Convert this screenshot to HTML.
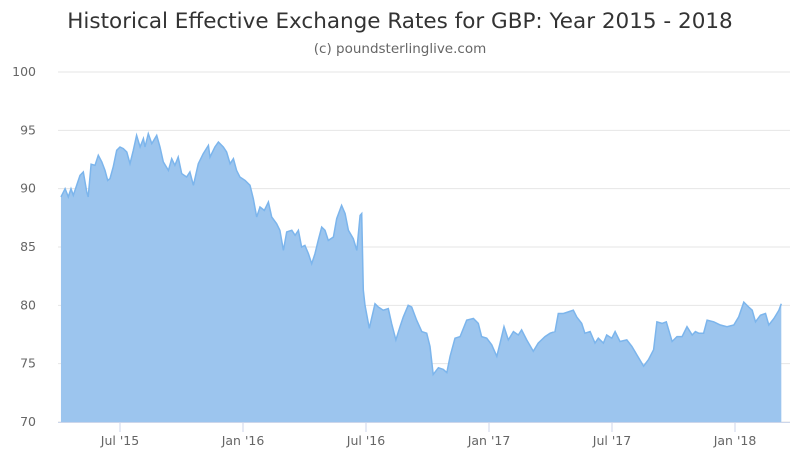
<!DOCTYPE html>
<html><head><meta charset="utf-8"><style>
body{margin:0;background:#fff;font-family:"Liberation Sans",sans-serif}
svg{display:block}
</style></head><body>
<svg id="chart" width="800" height="464" xmlns="http://www.w3.org/2000/svg">
<text x="400" y="28" text-anchor="middle" font-size="21.5" fill="#333" font-family="DejaVu Sans, sans-serif">Historical Effective Exchange Rates for GBP: Year 2015 - 2018</text>
<text x="400" y="53" text-anchor="middle" font-size="13.5" fill="#666" font-family="DejaVu Sans, sans-serif">(c) poundsterlinglive.com</text>
<g id="grid"></g><g id="series"></g><g id="axes"></g>
</svg>
<script>
// months since Jan 2015 (0 = Jan '15)
const months=[3.12,3.32,3.48,3.61,3.72,3.89,4.05,4.21,4.38,4.45,4.59,4.78,4.94,5.11,5.27,5.40,5.51,5.67,5.84,6.0,6.16,6.33,6.49,6.65,6.81,6.98,7.14,7.22,7.38,7.55,7.79,7.95,8.11,8.36,8.52,8.68,8.84,9.01,9.25,9.41,9.58,9.82,10.06,10.31,10.39,10.63,10.80,11.04,11.20,11.37,11.53,11.69,11.85,12.10,12.34,12.50,12.67,12.83,13.04,13.24,13.40,13.64,13.80,13.97,14.13,14.38,14.54,14.70,14.86,15.02,15.19,15.35,15.51,15.67,15.84,16.0,16.16,16.41,16.57,16.81,16.98,17.14,17.38,17.55,17.71,17.79,17.87,17.95,18.16,18.44,18.60,18.84,19.09,19.25,19.46,19.66,19.82,20.06,20.23,20.47,20.72,20.96,21.12,21.28,21.53,21.77,21.94,22.10,22.34,22.59,22.91,23.24,23.48,23.64,23.89,24.13,24.38,24.54,24.73,24.94,25.19,25.43,25.59,25.84,26.16,26.40,26.73,26.98,27.22,27.38,27.63,27.87,28.11,28.28,28.52,28.68,28.93,29.17,29.33,29.58,29.74,29.99,30.15,30.39,30.72,30.97,31.21,31.54,31.78,32.03,32.19,32.44,32.65,32.93,33.17,33.42,33.66,33.91,34.07,34.23,34.47,34.64,34.96,35.29,35.61,35.94,36.18,36.43,36.67,36.84,37.0,37.24,37.49,37.65,37.90,38.14,38.26];
const rates=[89.29,90.0,89.29,90.0,89.43,90.29,91.14,91.43,89.71,89.29,92.1,92.0,92.86,92.29,91.57,90.71,90.86,91.86,93.29,93.57,93.43,93.14,92.14,93.29,94.57,93.57,94.29,93.57,94.71,93.86,94.57,93.57,92.29,91.57,92.57,92.0,92.71,91.29,91.0,91.43,90.29,92.14,93.0,93.71,92.71,93.57,94.0,93.57,93.14,92.14,92.57,91.57,91.0,90.71,90.29,89.14,87.57,88.43,88.14,88.86,87.57,87.0,86.43,84.71,86.29,86.43,86.0,86.43,85.0,85.14,84.43,83.57,84.43,85.57,86.71,86.43,85.57,85.86,87.43,88.57,87.86,86.43,85.71,84.71,87.71,87.86,81.31,80.0,78.03,80.14,79.86,79.58,79.72,78.45,77.04,78.17,79.01,80.0,79.86,78.73,77.75,77.61,76.48,74.08,74.65,74.51,74.23,75.63,77.18,77.32,78.73,78.87,78.45,77.32,77.18,76.62,75.63,76.76,78.17,77.04,77.75,77.46,77.89,77.04,76.06,76.76,77.32,77.61,77.75,79.30,79.30,79.44,79.58,79.01,78.45,77.61,77.75,76.76,77.18,76.76,77.46,77.18,77.75,76.90,77.04,76.48,75.77,74.79,75.35,76.20,78.59,78.45,78.59,76.90,77.32,77.32,78.17,77.46,77.75,77.61,77.61,78.73,78.59,78.31,78.17,78.31,79.01,80.28,79.86,79.58,78.59,79.15,79.30,78.31,78.87,79.58,80.14];
const yTicks=[70,75,80,85,90,95,100];
const xTickMonths=[6,12,18,24,30,36];
const xTickLabels=["Jul '15","Jan '16","Jul '16","Jan '17","Jul '17","Jan '18"];

const NS="http://www.w3.org/2000/svg";
const X=m=>120+(m-6)*20.5;
const Y=v=>422-(v-70)*350/30;
function mk(tag,attrs,parent,text){const e=document.createElementNS(NS,tag);for(const k in attrs)e.setAttribute(k,attrs[k]);if(text!=null)e.textContent=text;parent.appendChild(e);return e;}
const grid=document.getElementById('grid'),axes=document.getElementById('axes'),ser=document.getElementById('series');
yTicks.forEach(t=>{
  const l=mk('line',{x1:58,x2:790,y1:Y(t),y2:Y(t),stroke:'#e6e6e6','stroke-width':1},grid);
  
  
  const tx=mk('text',{x:36,y:Y(t)+4,'text-anchor':'end','font-size':12.5,fill:'#666','font-family':'DejaVu Sans, sans-serif'},axes,t);
  
  
});
xTickMonths.forEach((m,i)=>{
  const tx=mk('text',{x:X(m),y:445,'text-anchor':'middle','font-size':12.5,fill:'#666','font-family':'DejaVu Sans, sans-serif'},axes,xTickLabels[i]);
  
  
  const tk=mk('line',{x1:X(m),x2:X(m),y1:422,y2:432,stroke:'#ccd6eb'},axes);
  
  
});
const ax=mk('line',{x1:58,x2:790,y1:422.5,y2:422.5,stroke:'#ccd6eb'},axes);


let d='M'+X(months[0])+','+Y(rates[0]);
for(let i=1;i<months.length;i++)d+=' L'+X(months[i]).toFixed(1)+','+Y(rates[i]).toFixed(1);
const area=mk('path',{d:d+' L'+X(months[months.length-1])+',422 L'+X(months[0])+',422 Z',fill:'#9cc5ee'},ser);


const line=mk('path',{d:d,fill:'none',stroke:'#7cb5ec','stroke-width':1.5},ser);


</script>
</body></html>
